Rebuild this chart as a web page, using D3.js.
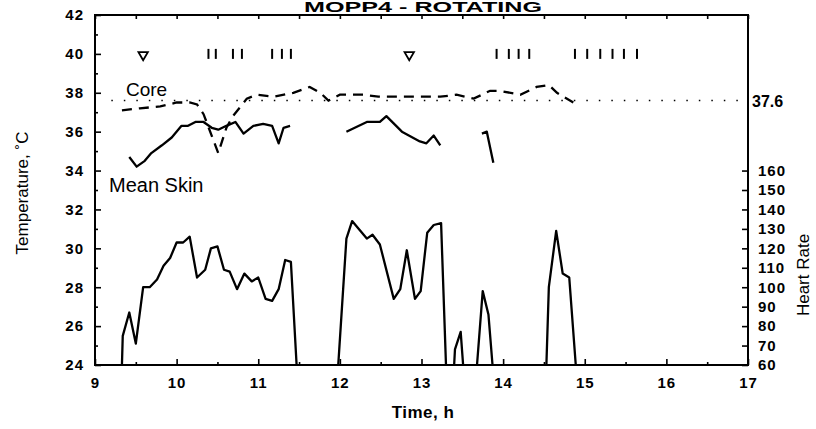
<!DOCTYPE html>
<html>
<head>
<meta charset="utf-8">
<script src="https://cdn.jsdelivr.net/npm/d3@7"></script>
<style>
  body { margin: 0; background: #fff; }
  svg { display: block; }
  text { font-family: Arial, "Liberation Sans", Helvetica, sans-serif; fill: #000; }
</style>
</head>
<body>
<div id="viz1"></div>
<script>
// dados - values
var coreTime = [9.33, 9.55, 9.80, 10.00, 10.16, 10.25, 10.33, 10.42, 10.51, 10.61, 10.69, 10.86, 10.98, 11.19, 11.43, 11.63, 11.76, 11.86, 12.00, 12.29, 12.47, 12.72, 12.98, 13.23, 13.43, 13.64, 13.84, 13.96, 14.21, 14.41, 14.56, 14.66, 14.86];
var coreTemp = [37.1, 37.2, 37.3, 37.5, 37.5, 37.4, 36.9, 35.9, 34.9, 36.2, 36.8, 37.7, 37.9, 37.8, 38.0, 38.3, 38.0, 37.6, 37.9, 37.9, 37.8, 37.8, 37.8, 37.8, 37.9, 37.7, 38.1, 38.1, 37.9, 38.3, 38.4, 38.0, 37.5];

// null = break in the trace
var skinTime = [9.42, 9.51, 9.61, 9.69, 9.82, 9.94, 10.06, 10.14, 10.23, 10.33, 10.43, 10.51, 10.61, 10.72, 10.82, 10.94, 11.06, 11.17, 11.25, 11.31, 11.39, null,
                12.08, 12.33, 12.49, 12.57, 12.76, 12.98, 13.06, 13.15, 13.23, null,
                13.74, 13.80, 13.88];
var skinTemp = [34.7, 34.2, 34.5, 34.9, 35.3, 35.7, 36.3, 36.3, 36.5, 36.5, 36.2, 36.1, 36.3, 36.5, 35.9, 36.3, 36.4, 36.3, 35.4, 36.2, 36.3, null,
                36.0, 36.5, 36.5, 36.8, 36.0, 35.5, 35.4, 35.8, 35.3, null,
                35.9, 36.0, 34.4];

var hrTime = [9.33, 9.34, 9.42, 9.50, 9.59, 9.67, 9.76, 9.84, 9.92, 10.00, 10.08, 10.16, 10.25, 10.35, 10.42, 10.50, 10.58, 10.65, 10.74, 10.83, 10.92, 11.00, 11.09, 11.17, 11.25, 11.33, 11.40, 11.47, null,
              11.98, 12.08, 12.15, 12.25, 12.33, 12.40, 12.49, 12.66, 12.74, 12.82, 12.92, 12.99, 13.07, 13.15, 13.24, 13.30, null,
              13.40, 13.41, 13.48, 13.51, null,
              13.68, 13.75, 13.82, 13.87, null,
              14.53, 14.56, 14.65, 14.73, 14.81, 14.89];
var hrRate = [60, 75, 87, 71, 100, 100, 104, 111, 115, 123, 123, 126, 105, 109, 120, 121, 109, 108, 99, 107, 103, 105, 94, 93, 99, 114, 113, 60, null,
              60, 125, 134, 129, 125, 127, 122, 94, 99, 119, 94, 98, 128, 132, 133, 60, null,
              60, 68, 77, 60, null,
              60, 98, 86, 60, null,
              60, 100, 129, 107, 105, 60];

var triangleTimes = [9.59, 12.85];
var eventTimes = [10.39, 10.48, 10.69, 10.80, 11.17, 11.29, 11.40, 13.92, 14.07, 14.19, 14.32, 14.88, 15.03, 15.19, 15.34, 15.48, 15.64];

var timeTicks = [9, 10, 11, 12, 13, 14, 15, 16, 17];
var tempTicks = [24, 26, 28, 30, 32, 34, 36, 38, 40, 42];
var rateTicks = [60, 70, 80, 90, 100, 110, 120, 130, 140, 150, 160];
var coreMean = 37.6;

var width = 816, height = 429;

var svg = d3
.select('#viz1')
.append('svg')
.attr('width', width)
.attr('height', height)
;

// escalas - scales
var x = d3.scaleLinear().domain([9, 17]).range([95, 748]);
var y = d3.scaleLinear().domain([24, 42]).range([365, 15]);
var yHR = d3.scaleLinear().domain([60, 160]).range([y(24), y(34)]);

var g = svg.append('g');

// minor and major ticks on all four sides, pointing inwards
var halfHours = d3.range(9.5, 17, 1);
var fontTick = '15px';

g.append('g')
.attr('transform', 'translate(0,' + y(24) + ')')
.call(d3.axisBottom(x).tickValues(timeTicks).tickSizeInner(-6).tickSizeOuter(0).tickPadding(12).tickFormat(d3.format('d')))
.call(function(a){ a.select('.domain').remove(); })
;
g.append('g')
.attr('transform', 'translate(0,' + y(24) + ')')
.call(d3.axisBottom(x).tickValues(halfHours).tickSizeInner(-3).tickSizeOuter(0).tickFormat(''))
.call(function(a){ a.select('.domain').remove(); })
;
g.append('g')
.attr('transform', 'translate(0,' + y(42) + ')')
.call(d3.axisTop(x).tickValues(timeTicks.concat(halfHours)).tickSizeInner(-4).tickSizeOuter(0).tickFormat(''))
.call(function(a){ a.select('.domain').remove(); })
;
g.append('g')
.attr('transform', 'translate(' + x(9) + ',0)')
.call(d3.axisLeft(y).tickValues(tempTicks).tickSizeInner(-6).tickSizeOuter(0).tickPadding(11).tickFormat(d3.format('d')))
.call(function(a){ a.select('.domain').remove(); })
;
g.append('g')
.attr('transform', 'translate(' + x(9) + ',0)')
.call(d3.axisLeft(y).tickValues(d3.range(25, 42, 2)).tickSizeInner(-3).tickSizeOuter(0).tickFormat(''))
.call(function(a){ a.select('.domain').remove(); })
;
g.append('g')
.attr('transform', 'translate(' + x(17) + ',0)')
.call(d3.axisRight(yHR).tickValues(rateTicks).tickSizeInner(-6).tickSizeOuter(0).tickPadding(10).tickFormat(d3.format('d')))
.call(function(a){ a.select('.domain').remove(); })
;

g.selectAll('.tick line').attr('stroke', '#000').attr('stroke-width', 1.6);
g.selectAll('.tick text')
.attr('font-size', fontTick)
.attr('font-weight', 'bold')
.attr('fill', '#000')
.style('letter-spacing', '1px')
.style('font-family', 'Arial, "Liberation Sans", sans-serif')
;

// frame
g.append('rect')
.attr('x', x(9))
.attr('y', y(42))
.attr('width', x(17) - x(9))
.attr('height', y(24) - y(42))
.attr('fill', 'none')
.attr('stroke', '#000')
.attr('stroke-width', 2)
;

// linhas - lines
var lineT = d3.line()
.defined(function(d){ return d[1] !== null; })
.x(function(d){ return x(d[0]); })
.y(function(d){ return y(d[1]); });

var lineHR = d3.line()
.defined(function(d){ return d[1] !== null; })
.x(function(d){ return x(d[0]); })
.y(function(d){ return yHR(d[1]); });

// dotted mean core level
g.append('line')
.attr('x1', x(9.2))
.attr('x2', x(17) - 3)
.attr('y1', y(coreMean))
.attr('y2', y(coreMean))
.attr('stroke', '#000')
.attr('stroke-width', 1.4)
.attr('stroke-dasharray', '1.5,11')
;

g.append('path')
.datum(d3.zip(coreTime, coreTemp))
.attr('d', lineT)
.attr('fill', 'none')
.attr('stroke', '#000')
.attr('stroke-width', 2.3)
.attr('stroke-dasharray', '10,7')
;

g.append('path')
.datum(d3.zip(skinTime, skinTemp))
.attr('d', lineT)
.attr('fill', 'none')
.attr('stroke', '#000')
.attr('stroke-width', 2.3)
.attr('stroke-linejoin', 'round')
;

g.append('path')
.datum(d3.zip(hrTime, hrRate))
.attr('d', lineHR)
.attr('fill', 'none')
.attr('stroke', '#000')
.attr('stroke-width', 2.3)
.attr('stroke-linejoin', 'round')
;

// marcadores - event markers at the 40 level
g.selectAll('.ev')
.data(eventTimes)
.enter()
.append('line')
.attr('x1', function(d){ return x(d); })
.attr('x2', function(d){ return x(d); })
.attr('y1', y(40) - 5)
.attr('y2', y(40) + 5)
.attr('stroke', '#000')
.attr('stroke-width', 2)
;

g.selectAll('.tri')
.data(triangleTimes)
.enter()
.append('path')
.attr('d', d3.symbol().type(d3.symbolTriangle).size(38))
.attr('transform', function(d){ return 'translate(' + x(d) + ',' + (y(40) + 1) + ') rotate(180)'; })
.attr('fill', '#fff')
.attr('stroke', '#000')
.attr('stroke-width', 1.8)
;

// textos - labels
g.append('text')
.text('MOPP4 - ROTATING')
.attr('x', 304)
.attr('y', 12)
.attr('textLength', 238)
.attr('lengthAdjust', 'spacingAndGlyphs')
.attr('font-size', '14px')
.attr('font-weight', 'bold')
;

g.append('text')
.text('Core')
.attr('x', 126)
.attr('y', 96)
.attr('font-size', '19px')
;

g.append('text')
.text('Mean Skin')
.attr('x', 109)
.attr('y', 192)
.attr('font-size', '20px')
;

g.append('text')
.text(coreMean.toFixed(1))
.attr('x', 752)
.attr('y', y(coreMean) + 6)
.attr('font-size', '16px')
.attr('font-weight', 'bold')
;

g.append('text')
.text('Temperature, ˚C')
.attr('transform', 'translate(28,193) rotate(-90)')
.attr('text-anchor', 'middle')
.attr('font-size', '17px')
;

g.append('text')
.text('Heart Rate')
.attr('transform', 'translate(809,275) rotate(-90)')
.attr('text-anchor', 'middle')
.attr('font-size', '17px')
;

g.append('text')
.text('Time, h')
.attr('x', 423)
.attr('y', 418)
.attr('text-anchor', 'middle')
.attr('font-size', '17px')
.attr('font-weight', 'bold')
.style('letter-spacing', '0.5px')
;
</script>
</body>
</html>
